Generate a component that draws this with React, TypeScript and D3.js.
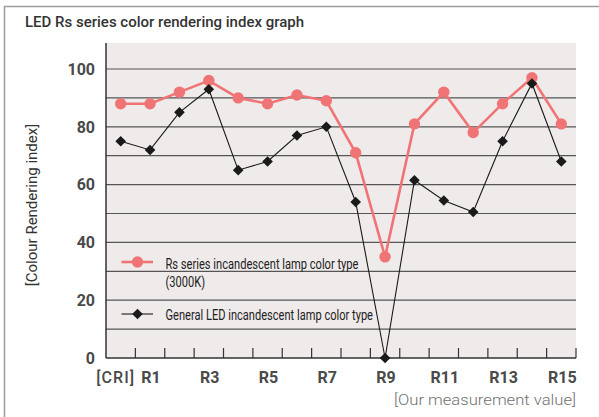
import React from 'react';
import * as d3 from 'd3';

// categories along the x axis (CRI = general colour rendering index Ra)
const categories = ['CRI', 'R1', 'R2', 'R3', 'R4', 'R5', 'R6', 'R7', 'R8', 'R9', 'R10', 'R11', 'R12', 'R13', 'R14', 'R15'];
const tickLabels = ['[CRI]', 'R1', 'R3', 'R5', 'R7', 'R9', 'R11', 'R13', 'R15'];
const labelledCats = ['CRI', 'R1', 'R3', 'R5', 'R7', 'R9', 'R11', 'R13', 'R15'];

const rsValues = [88, 88, 92, 96, 90, 88, 91, 89, 71, 35, 81, 92, 78, 88, 97, 81];
const ledValues = [75, 72, 85, 93, 65, 68, 77, 80, 54, 0, 61.5, 54.5, 50.5, 75, 95, 68];

const yTicks = [0, 20, 40, 60, 80, 100];
const gridValues = [10, 20, 30, 40, 50, 60, 70, 80, 90, 100];

const W = 599;
const H = 417;
const plot = { left: 106, right: 576, top: 43, bottom: 358 };

const PINK = '#f07476';
const FONT = 'Roboto, "Noto Sans", sans-serif';

const App: React.FC = () => {
  const x = d3.scaleBand<string>().domain(categories).range([plot.left, plot.right]).padding(0);
  const y = d3.scaleLinear().domain([0, 109]).range([plot.bottom, plot.top]);
  const cx = (c: string) => (x(c) ?? 0) + x.bandwidth() / 2;

  const line = d3
    .line<number>()
    .x((_, i) => cx(categories[i]))
    .y((d) => y(d));

  const boundaries = categories.map((c) => (x(c) ?? 0) + x.bandwidth());
  const diamond = (px: number, py: number, r: number) =>
    `M${px},${py - r}L${px + r},${py}L${px},${py + r}L${px - r},${py}Z`;

  return (
    <div style={{ position: 'absolute', left: 0, top: 0 }}>
      <svg width={W} height={H} style={{ display: 'block', fontFamily: FONT }}>
        <rect x={0} y={0} width={W} height={H} fill="#ffffff" />
        {/* frame */}
        <path d={`M4.5,${H}V6.5H${W}`} fill="none" stroke="#9d9d9d" strokeWidth={1.5} />
        <text x={25} y={27} fontSize={15} fontWeight={500} fill="#333">
          LED Rs series color rendering index graph
        </text>

        {/* plot background */}
        <rect x={plot.left} y={plot.top} width={plot.right - plot.left} height={plot.bottom - plot.top} fill="#efebea" />

        {/* grid */}
        {gridValues.map((v) => (
          <line key={v} x1={plot.left} x2={plot.right} y1={y(v)} y2={y(v)} stroke="#555" strokeWidth={1.2} />
        ))}

        {/* axes */}
        <line x1={plot.left} x2={plot.left} y1={plot.top} y2={plot.bottom} stroke="#333" strokeWidth={1.5} />
        <line x1={plot.left} x2={plot.right} y1={plot.bottom} y2={plot.bottom} stroke="#333" strokeWidth={1.5} />
        {boundaries.map((b, i) => (
          <line key={i} x1={b} x2={b} y1={plot.bottom} y2={plot.bottom - 10} stroke="#333" strokeWidth={1.2} />
        ))}

        {/* y tick labels */}
        {yTicks.map((t) => (
          <text key={t} x={95} y={y(t)} dy="0.36em" textAnchor="end" fontSize={16} fontWeight={700} fill="#4a4a4a">
            {t}
          </text>
        ))}

        {/* x tick labels */}
        {tickLabels.map((t, i) =>
          i === 0 ? (
            <text
              key={t}
              x={cx(labelledCats[i]) - 5.5}
              y={383}
              textAnchor="middle"
              fontSize={16}
              fontWeight={500}
              fill="#4a4a4a"
              textLength={38}
              lengthAdjust="spacing"
            >
              {t}
            </text>
          ) : (
            <text key={t} x={cx(labelledCats[i]) + 1} y={383} textAnchor="middle" fontSize={16} fontWeight={700} fill="#4a4a4a">
              {t}
            </text>
          )
        )}

        <text x={576} y={405} textAnchor="end" fontSize={15} fontWeight={300} fill="#707070" textLength={182} lengthAdjust="spacingAndGlyphs">
          [Our measurement value]
        </text>

        <text transform={`translate(37,205) rotate(-90)`} textAnchor="middle" fontSize={15} fill="#333">
          [Colour Rendering index]
        </text>

        {/* Rs series */}
        <path d={line(rsValues) ?? ''} fill="none" stroke={PINK} strokeWidth={2.6} />
        {rsValues.map((v, i) => (
          <circle key={i} cx={cx(categories[i])} cy={y(v)} r={5.7} fill={PINK} />
        ))}

        {/* general LED */}
        <path d={line(ledValues) ?? ''} fill="none" stroke="#1a1a1a" strokeWidth={1.1} />
        {ledValues.map((v, i) => (
          <path key={i} d={diamond(cx(categories[i]), y(v), 5.3)} fill="#1a1a1a" />
        ))}

        {/* legend */}
        <line x1={121.5} x2={153} y1={262} y2={262} stroke={PINK} strokeWidth={2.6} />
        <circle cx={137.5} cy={262} r={5.7} fill={PINK} />
        <text x={165.5} y={269} fontSize={14} fill="#222" textLength={193} lengthAdjust="spacingAndGlyphs">
          Rs series incandescent lamp color type
        </text>
        <text x={165.5} y={287} fontSize={14} fill="#222" textLength={39.5} lengthAdjust="spacingAndGlyphs">
          (3000K)
        </text>
        <line x1={121.5} x2={153} y1={314} y2={314} stroke="#1a1a1a" strokeWidth={1.1} />
        <path d={diamond(137.5, 314, 5.3)} fill="#1a1a1a" />
        <text x={165.5} y={319.5} fontSize={14} fill="#222" textLength={207.5} lengthAdjust="spacingAndGlyphs">
          General LED incandescent lamp color type
        </text>
      </svg>
    </div>
  );
};

export default App;
